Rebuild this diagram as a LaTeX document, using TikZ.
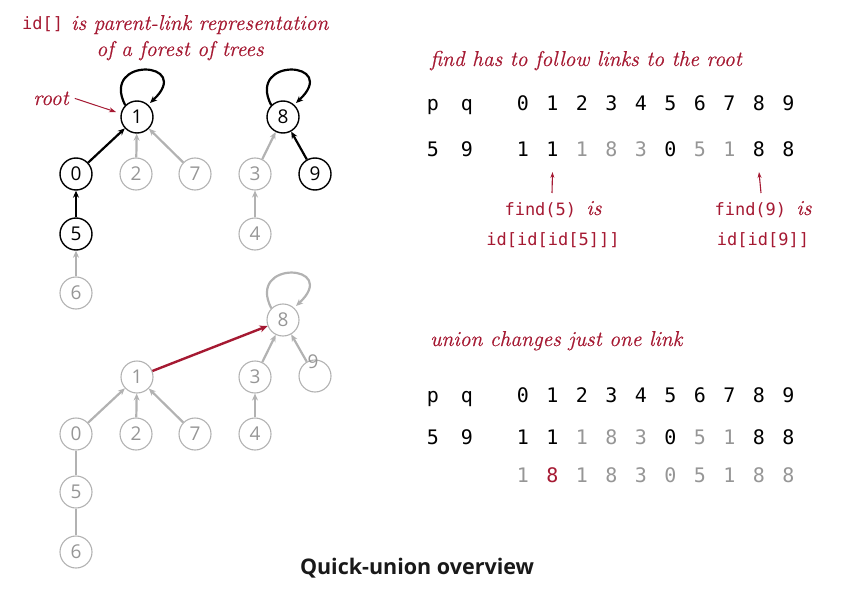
\documentclass[tikz,border=0pt]{standalone}
\usepackage{fontspec}
\setmonofont{DejaVu Sans Mono}
\newfontfamily\digitfont{DejaVu Sans Mono}
\newfontfamily\nodefont{Open Sans}
\newfontfamily\capfont{Open Sans}
\newfontfamily\itfont{Latin Modern Roman}[FakeBold=0.5]
\usetikzlibrary{arrows.meta,calc}
\definecolor{myred}{RGB}{165,25,50}
\definecolor{lgray}{RGB}{178,178,178}
\definecolor{tgray}{RGB}{150,150,150}
\tikzset{
  nd/.style={circle, draw, minimum size=32pt, inner sep=0pt, font=\nodefont\fontsize{19}{19}\selectfont},
  blk/.style={nd, draw=black, text=black, line width=1.4pt},
  gry/.style={nd, draw=lgray, text=tgray, line width=1.1pt},
  tip/.style={-{Stealth[length=7pt,width=6pt]}},
  bedge/.style={tip, line width=2.2pt, draw=black},
  gedge/.style={tip, line width=2.2pt, draw=lgray},
  gline/.style={line width=2.2pt, draw=lgray},
  redge/.style={-{Stealth[length=8pt,width=7pt]}, line width=2.4pt, draw=myred},
  ital/.style={font=\itfont\fontsize{21.5}{25}\selectfont\itshape, text=myred, inner sep=0pt},
  code/.style={font=\ttfamily\fontsize{17}{20}\selectfont, text=myred, inner sep=0pt},
  dig/.style={font=\digitfont\fontsize{20}{20}\selectfont, inner sep=0pt, anchor=base},
  kk/.style={dig, text=black},
  gg/.style={dig, text=tgray},
  rr/.style={dig, text=myred},
}
\newcommand\selfloop[2]{\draw[#1] (#2.135) .. controls ($(#2)+(-37,61)$) and ($(#2)+(58,56)$) .. ($(#2)+(13,14)$);}
\begin{document}
\begin{tikzpicture}[x=1pt,y=1pt]
\useasboundingbox (0,0) rectangle (842,606);
% ---------- top forest ----------
\node[blk] (n1) at (137,489) {1};
\node[blk] (n8) at (283,489) {8};
\node[blk] (n0) at (76,432) {0};
\node[gry] (n2) at (136,432) {2};
\node[gry] (n7) at (195,432) {7};
\node[gry] (n3) at (255,432) {3};
\node[blk] (n9) at (315,432) {9};
\node[blk] (n5) at (76,372) {5};
\node[gry] (n4) at (255,372) {4};
\node[gry] (n6) at (76,313) {6};
\selfloop{bedge}{n1}
\selfloop{bedge}{n8}
\draw[bedge] (n0) -- (n1);
\draw[gedge] (n2) -- (n1);
\draw[gedge] (n7) -- (n1);
\draw[bedge] (n5) -- (n0);
\draw[gedge] (n6) -- (n5);
\draw[gedge] (n3) -- (n8);
\draw[bedge] (n9) -- (n8);
\draw[gedge] (n4) -- (n3);
% labels
\node[code, anchor=base west] (t1a) at (22,576) {id[]};
\node[ital, anchor=base west] (t1b) at (t1a.base east) {\ is parent-link representation};
\node[ital, anchor=base] (t2) at (180,550) {of a forest of trees};
\node[ital, anchor=base] (root) at (51,501) {root};
\coordinate (rootend) at (116,494);
\draw[-{Stealth[length=7pt,width=5pt]}, line width=1pt, draw=myred] (root.east) ++(6,0) -- (rootend);
% ---------- bottom forest ----------
\node[gry] (m8) at (283,286) {8};
\node[gry] (m1) at (137,229) {1};
\node[gry] (m3) at (255,229) {3};
\node[gry] (m9) at (315,230) {};
\node[font=\nodefont\fontsize{19}{19}\selectfont, text=tgray, inner sep=0pt] (m9t) at (313,244) {9};
\node[gry] (m0) at (76,172) {0};
\node[gry] (m2) at (136,172) {2};
\node[gry] (m7) at (195,172) {7};
\node[gry] (m4) at (255,172) {4};
\node[gry] (m5) at (76,114) {5};
\node[gry] (m6) at (76,54) {6};
\selfloop{gedge}{m8}
\draw[gedge] (m0) -- (m1);
\draw[gedge] (m2) -- (m1);
\draw[gedge] (m7) -- (m1);
\draw[gline] (m5) -- (m0);
\draw[gline] (m6) -- (m5);
\draw[gedge] (m3) -- (m8);
\draw[gedge] (m9.120) -- (m8);
\draw[gedge] (m4) -- (m3);
\draw[redge] (m1) -- (m8);
% ---------- find table ----------
\node[ital, anchor=base west] (findt) at (430,540) {find has to follow links to the root};
\node[kk] (fp) at (433,495) {p};
\node[kk] (fq) at (467,495) {q};
\foreach \d [count=\i from 0] in {0,...,9} {
  \node[kk] (fh\i) at (523+29.5*\i,495) {\d};
}
\node[kk] (fvp) at (433,449) {5};
\node[kk] (fvq) at (467,449) {9};
\foreach \d/\s [count=\i from 0] in {1/kk,1/kk,1/gg,8/gg,3/gg,0/kk,5/gg,1/gg,8/kk,8/kk} {
  \node[\s] (fv\i) at (523+29.5*\i,449) {\d};
}
\coordinate (fa1) at (552,413);
\coordinate (fa2) at (761,413);
\draw[-{Stealth[length=6pt,width=4pt]}, line width=1.1pt, draw=myred] (fa1) -- (fv1.south |- 0,434);
\draw[-{Stealth[length=6pt,width=4pt]}, line width=1.1pt, draw=myred] (fa2) -- (fv8.south |- 0,434);
\node[code, anchor=base] (f5a) at (553,391) {find(5) {\itfont\itshape\fontsize{21.5}{25}\selectfont is}};
\node[code, anchor=base] (f5b) at (553,361) {id[id[id[5]]]};
\node[code, anchor=base] (f9a) at (763,391) {find(9) {\itfont\itshape\fontsize{21.5}{25}\selectfont is}};
\node[code, anchor=base] (f9b) at (763,361) {id[id[9]]};
% ---------- union table ----------
\node[ital, anchor=base west] (unt) at (430,260) {union changes just one link};
\node[kk] (up) at (433,204) {p};
\node[kk] (uq) at (467,204) {q};
\foreach \d [count=\i from 0] in {0,...,9} {
  \node[kk] (uh\i) at (523+29.5*\i,204) {\d};
}
\node[kk] (uvp) at (433,162) {5};
\node[kk] (uvq) at (467,162) {9};
\foreach \d/\s [count=\i from 0] in {1/kk,1/kk,1/gg,8/gg,3/gg,0/kk,5/gg,1/gg,8/kk,8/kk} {
  \node[\s] (uv\i) at (523+29.5*\i,162) {\d};
}
\foreach \d/\s [count=\i from 0] in {1/gg,8/rr,1/gg,8/gg,3/gg,0/gg,5/gg,1/gg,8/gg,8/gg} {
  \node[\s] (uw\i) at (523+29.5*\i,124) {\d};
}
% ---------- caption ----------
\node[font=\capfont\bfseries\fontsize{21.5}{24}\selectfont, text=black!90, inner sep=0pt] (cap) at (417,38) {Quick-union overview};
\end{tikzpicture}
\end{document}
